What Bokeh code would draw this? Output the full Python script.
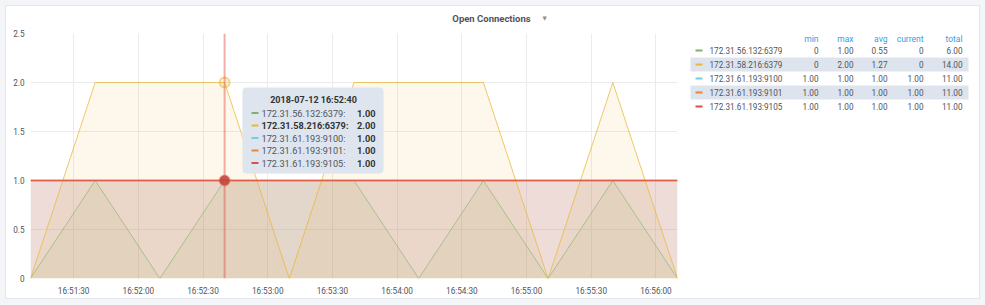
import pandas as pd
from bokeh.plotting import figure
from bokeh.layouts import column, row
from bokeh.models import (FixedTicker, DatetimeTickFormatter, CustomJSTickFormatter,
                          Label, BoxAnnotation, Span, Range1d, Spacer)
from bokeh.core.properties import value
from bokeh.embed import file_html
from bokeh.resources import INLINE

# ---------------- data ----------------
panel_title = "Open Connections"
day = "2018-07-12"
times = ["16:51:10", "16:51:40", "16:52:10", "16:52:40", "16:53:10", "16:53:40",
         "16:54:10", "16:54:40", "16:55:10", "16:55:40", "16:56:10"]
series_names = ["172.31.56.132:6379", "172.31.58.216:6379", "172.31.61.193:9100",
                "172.31.61.193:9101", "172.31.61.193:9105"]
s_56_132_6379 = [0, 1, 0, 1, 1, 1, 0, 1, 0, 1, 0]
s_58_216_6379 = [0, 2, 2, 2, 0, 2, 2, 2, 0, 2, 0]
s_61_193_9100 = [1, 1, 1, 1, 1, 1, 1, 1, 1, 1, 1]
s_61_193_9101 = [1, 1, 1, 1, 1, 1, 1, 1, 1, 1, 1]
s_61_193_9105 = [1, 1, 1, 1, 1, 1, 1, 1, 1, 1, 1]
series_values = [s_56_132_6379, s_58_216_6379, s_61_193_9100, s_61_193_9101, s_61_193_9105]
x_tick_labels = ["16:51:30", "16:52:00", "16:52:30", "16:53:00", "16:53:30",
                 "16:54:00", "16:54:30", "16:55:00", "16:55:30", "16:56:00"]
y_ticks = [0, 0.5, 1.0, 1.5, 2.0, 2.5]
stat_headers = ["min", "max", "avg", "current", "total"]
hover_time = "16:52:40"
bold_series = 1

# ---------------- styles ----------------
palette = ["#7eb26d", "#eab839", "#6ed0e0", "#ef843c", "#e24d42"]
line_widths = [1, 1, 1.4, 1.4, 1.4]
line_alphas = [0.6, 0.75, 0.75, 0.75, 0.75]
FONT = "Roboto"
TXT = "#52545c"
PAGE_BG = "#f4f5f8"
W, H = 985, 305
# canvas geometry (page pixels)
IN_L, IN_T, IN_R, IN_B = 6, 6, 979, 298       # inside of the panel border
TITLE_H = 22
SPLIT = 680                                     # plot | legend boundary
FL, FR, FT, FB = 30, 677, 33, 278               # plot frame

xs = pd.to_datetime([f"{day} {t}" for t in times])
xticks = [pd.Timestamp(f"{day} {t}").value / 1e6 for t in x_tick_labels]

# ---------- title strip ----------
tfig = figure(width=IN_R - IN_L, height=TITLE_H, output_backend="svg", toolbar_location=None,
              x_axis_location=None, y_axis_location=None,
              x_range=Range1d(IN_L, IN_R), y_range=Range1d(IN_T + TITLE_H, IN_T),
              min_border=0, background_fill_color="white", border_fill_color="white")
tfig.grid.visible = False
tfig.outline_line_color = None
tfig.text(x=[491], y=[17.5], text=[panel_title], text_font=value(FONT),
          text_font_size="9.5px", text_font_style="bold", text_color=TXT,
          text_align="center", text_baseline="middle")
tfig.text(x=[544], y=[17], text=["\u25BC"], text_font=value("DejaVu Sans"),
          text_font_size="5.5px", text_color="#8e8e8e",
          text_align="center", text_baseline="middle")

# ---------- main plot ----------
top0 = IN_T + TITLE_H
p = figure(width=SPLIT - IN_L, height=IN_B - top0, x_axis_type="datetime", output_backend="svg",
           toolbar_location=None, min_border_left=FL - IN_L, min_border_right=SPLIT - FR,
           min_border_top=FT - top0, min_border_bottom=IN_B - FB,
           x_range=Range1d(xs[0], xs[-1]), y_range=Range1d(y_ticks[0], y_ticks[-1]),
           background_fill_color="white", border_fill_color="white")
p.outline_line_color = None
for ax in (p.xaxis[0], p.yaxis[0]):
    ax.axis_line_color = None
    ax.major_tick_line_color = None
    ax.minor_tick_line_color = None
    ax.major_tick_out = 0
    ax.minor_tick_out = 0
    ax.major_label_text_font = FONT
    ax.major_label_text_font_size = "8.2px"
    ax.major_label_text_color = TXT
p.xaxis.ticker = FixedTicker(ticks=xticks)
p.xaxis.formatter = DatetimeTickFormatter(
    milliseconds="%H:%M:%S", seconds="%H:%M:%S", minsec="%H:%M:%S", minutes="%H:%M:%S",
    hourmin="%H:%M:%S", hours="%H:%M:%S", days="%H:%M:%S", months="%H:%M:%S",
    years="%H:%M:%S", context=None)
p.xaxis.major_label_standoff = 7
p.yaxis.ticker = FixedTicker(ticks=y_ticks)
p.yaxis.formatter = CustomJSTickFormatter(code="return tick == 0 ? '0' : tick.toFixed(1);")
p.yaxis.major_label_standoff = 6
p.xgrid.grid_line_color = "#ebebeb"
p.ygrid.grid_line_color = "#ebebeb"

for vals, col in zip(series_values, palette):
    p.varea(x=xs, y1=0, y2=vals, fill_color=col, fill_alpha=0.1)
for vals, col, lw, la in zip(series_values, palette, line_widths, line_alphas):
    p.line(x=xs, y=vals, line_color=col, line_width=lw, line_alpha=la)

hx = pd.Timestamp(f"{day} {hover_time}")
hi = times.index(hover_time)
p.add_layout(Span(location=hx, dimension="height", line_color="#e24d42", line_alpha=0.45,
                  line_width=2))
p.scatter(x=[hx], y=[s_58_216_6379[hi]], size=10, fill_color="#eab839", fill_alpha=0.2,
          line_color="#eab839", line_alpha=0.55, line_width=2)
p.scatter(x=[hx], y=[s_61_193_9105[hi]], size=10, fill_color="#b8453d", fill_alpha=0.9,
          line_color="#e24d42", line_alpha=0.45, line_width=2)


def sx(x):
    return x - FL


def sy(y):
    return FB - y


def box(l, t, r, b, fill, alpha=1.0, radius=0):
    p.add_layout(BoxAnnotation(left=sx(l), right=sx(r), top=sy(t), bottom=sy(b),
                               left_units="screen", right_units="screen",
                               top_units="screen", bottom_units="screen",
                               fill_color=fill, fill_alpha=alpha, line_alpha=0,
                               border_radius=radius))


def label(x, y, text, size, color, align="left", bold=False):
    p.add_layout(Label(x=sx(x), y=sy(y), x_units="screen", y_units="screen", text=text,
                       text_font=FONT, text_font_size=f"{size}px", text_color=color,
                       text_align=align, text_baseline="middle",
                       text_font_style="bold" if bold else "normal"))


# tooltip
box(242, 87, 383, 173, "#dde4ed", alpha=0.97, radius=4)
label(313, 99.5, f"{day} {hover_time}", 9, "#333333", align="center", bold=True)
tip_y = [112.5, 125, 137.5, 150, 162.5]
for i, (name, vals, col, ty) in enumerate(zip(series_names, series_values, palette, tip_y)):
    b = i == bold_series
    box(251, ty - 1, 258, ty + 1, col)
    label(261, ty, name + ":", 9.2, "#333333" if b else TXT, bold=b)
    label(375, ty, f"{vals[hi]:.2f}", 9.2, "#333333", align="right", bold=True)

# ---------- legend table (its frame is aligned with the plot frame) ----------
q = figure(width=IN_R - SPLIT, height=IN_B - top0, output_backend="svg", toolbar_location=None,
           x_axis_location=None, y_axis_location=None,
           x_range=Range1d(SPLIT, IN_R), y_range=Range1d(FB, FT),
           min_border_left=0, min_border_right=0,
           min_border_top=FT - top0, min_border_bottom=IN_B - FB,
           background_fill_color="white", border_fill_color="white")
q.grid.visible = False
q.outline_line_color = None


def fmt(v):
    return "0" if v == 0 else f"{v:.2f}"


col_right = [818, 853, 887, 923, 962]
row_y = [50, 64, 78, 92, 106]
hl = [ry for i, ry in enumerate(row_y) if i % 2 == 1]
q.quad(left=690, right=968, top=[y - 7 for y in hl], bottom=[y + 7 for y in hl],
       fill_color="#dde4ed", line_color=None)
q.quad(left=695, right=702, top=[y - 1 for y in row_y], bottom=[y + 1 for y in row_y],
       fill_color=palette, line_color=None)
q.text(x=col_right, y=[38] * len(col_right), text=stat_headers, text_font=value(FONT),
       text_font_size="8.5px", text_color="#33a2e5", text_align="right", text_baseline="middle")
q.text(x=[709] * len(series_names), y=row_y, text=series_names, text_font=value(FONT),
       text_font_size="8.2px", text_color=TXT, text_align="left", text_baseline="middle")
sx_, sy_, st_ = [], [], []
for vals, ry in zip(series_values, row_y):
    stats = [min(vals), max(vals), sum(vals) / len(vals), vals[-1], sum(vals)]
    for v, cx in zip(stats, col_right):
        sx_.append(cx)
        sy_.append(ry)
        st_.append(fmt(v))
q.text(x=sx_, y=sy_, text=st_, text_font=value(FONT), text_font_size="8.2px",
       text_color=TXT, text_align="right", text_baseline="middle")

# ---------- page assembly (gray page, white bordered panel) ----------
inner = column(tfig, row(p, q, spacing=0), spacing=0,
               styles={"outline": "1px solid #e3e6ec", "background-color": "white"})
page = column(
    Spacer(width=W, height=IN_T),
    row(Spacer(width=IN_L, height=IN_B - IN_T), inner,
        Spacer(width=W - IN_R, height=IN_B - IN_T), spacing=0),
    Spacer(width=W, height=H - IN_B),
    spacing=0, styles={"background-color": PAGE_BG})

open("out.html", "w").write(file_html(page, INLINE))
